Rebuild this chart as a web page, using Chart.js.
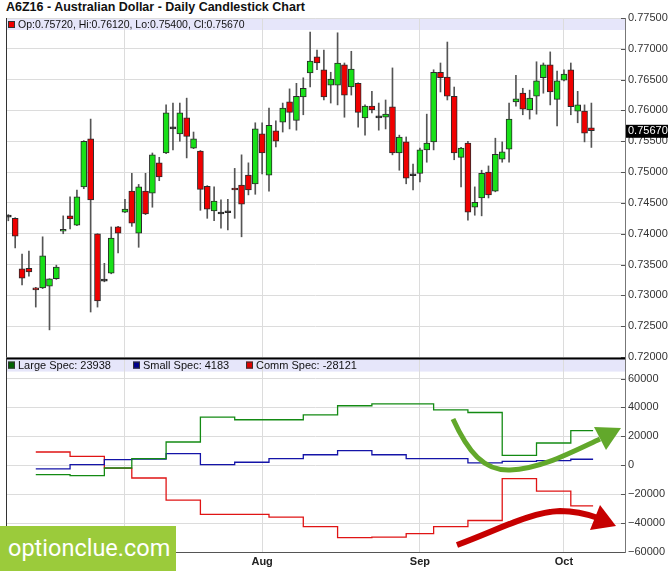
<!DOCTYPE html>
<html>
<head>
<meta charset="utf-8">
<script src="https://cdn.jsdelivr.net/npm/chart.js@4.4.0/dist/chart.umd.min.js"></script>
<style>
  body { margin: 0; background: #fff; width: 670px; height: 571px; overflow: hidden; position: relative; }
  #title { position: absolute; left: 6px; top: 0px; font: bold 12.5px "Liberation Sans", Arial, sans-serif; color: #111; }
  #top { position: absolute; left: 0; top: 0; }
  #bot { position: absolute; left: 0; top: 348px; }
  #wm { position: absolute; left: 0; top: 526px; width: 176px; height: 45px; background: #9bcb3b; color: #fff;
        font: 23.5px Roboto, sans-serif; line-height: 44px; padding-left: 8px; box-sizing: border-box; }
  svg { position: absolute; left: 0; top: 0; }
</style>
</head>
<body>
<div id="title">A6Z16 - Australian Dollar - Daily Candlestick Chart</div>
<canvas id="top" width="670" height="369"></canvas>
<canvas id="bot" width="670" height="223"></canvas>
<svg width="670" height="571">
  <path d="M453 419 C468 452 484 471 510 470 C540 469 570 453 600 439" fill="none" stroke="#62a82b" stroke-width="5"/>
  <polygon points="621,428 594,427 606,450" fill="#62a82b"/>
  <path d="M457 545 C498 530 530 512 560 511 C575 511 587 514 598 518" fill="none" stroke="#c60000" stroke-width="6"/>
  <polygon points="616,526 600,505 590,530" fill="#c60000"/>
</svg>
<div id="wm">optionclue.com</div>
<script>
// daily bars, first trading day and holidays skipped
const firstDay = '2016-06-08';
const holidays = ['2016-07-04', '2016-09-05'];

const opens = [
  0.7427, 0.7425, 0.7343, 0.7344, 0.7312, 0.7312, 0.7315, 0.7327, 0.7404, 0.7429,
  0.7414, 0.7476, 0.7554, 0.7400, 0.7323, 0.7336, 0.7411, 0.7435, 0.7469, 0.7401,
  0.7469, 0.7466, 0.7515, 0.7531, 0.7570, 0.7562, 0.7588, 0.7539, 0.7534, 0.7477,
  0.7437, 0.7432, 0.7434, 0.7474, 0.7479, 0.7495, 0.7481, 0.7562, 0.7495, 0.7567,
  0.7581, 0.7614, 0.7584, 0.7622, 0.7661, 0.7687, 0.7666, 0.7641, 0.7641, 0.7674,
  0.7638, 0.7644, 0.7588, 0.7607, 0.7588, 0.7589, 0.7606, 0.7531, 0.7549, 0.7494,
  0.7498, 0.7536, 0.7549, 0.7662, 0.7654, 0.7623, 0.7524, 0.7547, 0.7443, 0.7458,
  0.7500, 0.7469, 0.7521, 0.7537, 0.7614, 0.7628, 0.7601, 0.7623, 0.7653, 0.7674,
  0.7618, 0.7649, 0.7666, 0.7599, 0.7599, 0.7572
];
const highs = [
  0.7431, 0.7426, 0.7367, 0.7372, 0.7313, 0.7395, 0.7327, 0.7349, 0.7429, 0.7460,
  0.7471, 0.7551, 0.7586, 0.7400, 0.7352, 0.7411, 0.7412, 0.7456, 0.7498, 0.7480,
  0.7498, 0.7531, 0.7524, 0.7609, 0.7612, 0.7612, 0.7620, 0.7565, 0.7535, 0.7478,
  0.7476, 0.7455, 0.7456, 0.7506, 0.7528, 0.7515, 0.7580, 0.7580, 0.7604, 0.7583,
  0.7612, 0.7635, 0.7644, 0.7653, 0.7727, 0.7698, 0.7698, 0.7662, 0.7726, 0.7677,
  0.7696, 0.7645, 0.7609, 0.7631, 0.7612, 0.7617, 0.7669, 0.7560, 0.7557, 0.7513,
  0.7539, 0.7594, 0.7666, 0.7677, 0.7711, 0.7638, 0.7540, 0.7550, 0.7476, 0.7503,
  0.7510, 0.7555, 0.7549, 0.7612, 0.7657, 0.7636, 0.7633, 0.7679, 0.7677, 0.7695,
  0.7664, 0.7666, 0.7677, 0.7631, 0.7609, 0.7612
];
const lows = [
  0.7421, 0.7377, 0.7317, 0.7331, 0.7281, 0.7311, 0.7244, 0.7326, 0.7400, 0.7408,
  0.7413, 0.7473, 0.7273, 0.7281, 0.7322, 0.7335, 0.7369, 0.7434, 0.7412, 0.7378,
  0.7431, 0.7443, 0.7486, 0.7530, 0.7536, 0.7550, 0.7523, 0.7538, 0.7438, 0.7425,
  0.7421, 0.7409, 0.7406, 0.7425, 0.7395, 0.7463, 0.7464, 0.7497, 0.7469, 0.7541,
  0.7565, 0.7570, 0.7568, 0.7593, 0.7638, 0.7666, 0.7617, 0.7612, 0.7609, 0.7589,
  0.7625, 0.7573, 0.7560, 0.7596, 0.7568, 0.7570, 0.7528, 0.7503, 0.7481, 0.7471,
  0.7484, 0.7516, 0.7536, 0.7630, 0.7617, 0.7520, 0.7476, 0.7422, 0.7430, 0.7429,
  0.7458, 0.7468, 0.7516, 0.7516, 0.7607, 0.7593, 0.7586, 0.7594, 0.7628, 0.7609,
  0.7575, 0.7648, 0.7593, 0.7580, 0.7549, 0.7540
];
const closes = [
  0.7427, 0.7396, 0.7328, 0.7338, 0.7309, 0.7364, 0.7327, 0.7346, 0.7407, 0.7424,
  0.7460, 0.7550, 0.7455, 0.7291, 0.7323, 0.7393, 0.7401, 0.7440, 0.7417, 0.7476,
  0.7432, 0.7528, 0.7492, 0.7596, 0.7570, 0.7596, 0.7558, 0.7554, 0.7472, 0.7440,
  0.7453, 0.7432, 0.7434, 0.7471, 0.7448, 0.7471, 0.7570, 0.7531, 0.7576, 0.7550,
  0.7604, 0.7597, 0.7623, 0.7636, 0.7680, 0.7677, 0.7622, 0.7651, 0.7677, 0.7625,
  0.7667, 0.7597, 0.7607, 0.7601, 0.7588, 0.7594, 0.7531, 0.7557, 0.7490, 0.7494,
  0.7536, 0.7547, 0.7662, 0.7653, 0.7623, 0.7531, 0.7539, 0.7435, 0.7451, 0.7498,
  0.7463, 0.7529, 0.7533, 0.7586, 0.7619, 0.7602, 0.7620, 0.7648, 0.7674, 0.7630,
  0.7648, 0.7659, 0.7606, 0.7609, 0.7563, 0.7567
];

// weekly COT report dates (Tuesdays) and net positions
const cotDates = ['2016-06-14', '2016-06-21', '2016-06-28', '2016-07-05', '2016-07-12', '2016-07-19',
  '2016-07-26', '2016-08-02', '2016-08-09', '2016-08-16', '2016-08-23', '2016-08-30',
  '2016-09-06', '2016-09-13', '2016-09-20', '2016-09-27', '2016-10-04'];
const largeSpec = [-6400, -7100, -1900, 4600, 16100, 33300, 31500, 31500, 34900, 41200, 42500, 42500, 38400, 36500, 6900, 15400, 23938];
const smallSpec = [-2500, 400, 3900, 4300, 8000, 400, 2100, 4600, 7300, 10100, 7300, 4600, 4600, 1600, 2700, 3200, 4183];
const commSpec = [9200, 6200, -2000, -8800, -24100, -34000, -34000, -35900, -42500, -50100, -49700, -47300, -42400, -38200, -9200, -17900, -28121];

const priceTicks = { min: 0.72, max: 0.775, step: 0.005 };
const cotTicks = { min: -60000, max: 60000, step: 20000 };
const monthNames = ['Jan', 'Feb', 'Mar', 'Apr', 'May', 'Jun', 'Jul', 'Aug', 'Sep', 'Oct', 'Nov', 'Dec'];

const X_MIN = -0.34, X_MAX = 89.9;
const COT_TOP = 74500; // panel top sits above the last labelled tick
const FONT = '"Liberation Sans", Arial, sans-serif';
const GRID = '#dcdcdc';

function tradingDays(start, n, skip) {
  const out = [];
  const d = new Date(start + 'T00:00:00Z');
  while (out.length < n) {
    const s = d.toISOString().slice(0, 10);
    const wd = d.getUTCDay();
    if (wd !== 0 && wd !== 6 && !skip.includes(s)) out.push(s);
    d.setUTCDate(d.getUTCDate() + 1);
  }
  return out;
}

function tickList(t) {
  const out = [];
  const n = Math.round((t.max - t.min) / t.step);
  for (let k = 0; k <= n; k++) out.push({ value: t.min + k * t.step });
  return out;
}

const dates = tradingDays(firstDay, opens.length, holidays);
const monthStarts = [];
dates.forEach((s, i) => { if (i > 0 && s.slice(5, 7) !== dates[i - 1].slice(5, 7)) monthStarts.push(i); });

function candleColor(i) {
  if (closes[i] > opens[i]) return '#18e018';
  if (closes[i] < opens[i]) return '#f00000';
  return '#222';
}

function innerTicks(chart, scale) {
  const ctx = chart.ctx, r = chart.chartArea.right;
  ctx.save();
  ctx.strokeStyle = '#555';
  ctx.lineWidth = 1;
  scale.ticks.forEach(t => {
    const y = Math.round(scale.getPixelForValue(t.value)) + 0.5;
    ctx.beginPath(); ctx.moveTo(r - 4, y); ctx.lineTo(r, y); ctx.stroke();
  });
  ctx.restore();
}

function legendItem(ctx, x, y, color, text) {
  ctx.fillStyle = color;
  ctx.fillRect(x, y, 7, 7);
  ctx.strokeStyle = '#333';
  ctx.lineWidth = 1;
  ctx.strokeRect(x + 0.5, y + 0.5, 6, 6);
  ctx.fillStyle = '#111';
  ctx.fillText(text, x + 10, y + 7);
}

const last = opens.length - 1;

const topDecor = {
  id: 'topDecor',
  beforeDraw(chart) {
    const { ctx, chartArea: a } = chart;
    ctx.save();
    ctx.fillStyle = '#e6e6fa';
    ctx.fillRect(a.left, a.top, a.right - a.left, 12);
    ctx.restore();
  },
  afterDraw(chart) {
    const { ctx, chartArea: a } = chart;
    const ys = chart.scales.y;
    innerTicks(chart, ys);
    ctx.save();
    ctx.strokeStyle = '#333';
    ctx.lineWidth = 1;
    ctx.beginPath(); ctx.moveTo(a.left + 0.5, a.top); ctx.lineTo(a.left + 0.5, a.bottom); ctx.stroke();
    ctx.font = '10.5px ' + FONT;
    legendItem(ctx, a.left + 2, a.top + 3, candleColor(last),
      'Op:' + opens[last].toFixed(5) + ', Hi:' + highs[last].toFixed(5) +
      ', Lo:' + lows[last].toFixed(5) + ', Cl:' + closes[last].toFixed(5));
    // last price marker
    const py = ys.getPixelForValue(closes[last]);
    ctx.font = '11px ' + FONT;
    ctx.fillStyle = '#000';
    ctx.fillRect(a.right + 1, py - 6, 42, 13);
    ctx.fillStyle = '#fff';
    ctx.textBaseline = 'middle';
    ctx.fillText(closes[last].toFixed(5), a.right + 3, py + 0.5);
    ctx.restore();
  }
};

const botDecor = {
  id: 'botDecor',
  beforeDraw(chart) {
    const { ctx, chartArea: a } = chart;
    ctx.save();
    ctx.fillStyle = '#e6e6fa';
    ctx.fillRect(a.left, a.top + 1, a.right - a.left, 13);
    ctx.restore();
  },
  afterDraw(chart) {
    const { ctx, chartArea: a } = chart;
    innerTicks(chart, chart.scales.y);
    ctx.save();
    ctx.strokeStyle = '#000';
    ctx.lineWidth = 2;
    ctx.beginPath(); ctx.moveTo(a.left, a.top + 1); ctx.lineTo(a.right, a.top + 1); ctx.stroke();
    ctx.strokeStyle = '#333';
    ctx.lineWidth = 1;
    ctx.beginPath(); ctx.moveTo(a.left + 0.5, a.top); ctx.lineTo(a.left + 0.5, a.bottom); ctx.stroke();
    ctx.font = '11px ' + FONT;
    const n = cotDates.length - 1;
    legendItem(ctx, a.left + 2, a.top + 4, '#006400', 'Large Spec: ' + largeSpec[n]);
    legendItem(ctx, a.left + 127, a.top + 4, '#00008b', 'Small Spec: ' + smallSpec[n]);
    legendItem(ctx, a.left + 240, a.top + 4, '#dd0000', 'Comm Spec: ' + commSpec[n]);
    ctx.restore();
  }
};

const idx = dates.map((d, i) => i);

new Chart(document.getElementById('top'), {
  type: 'bar',
  data: {
    datasets: [
      {
        label: 'body',
        data: idx.map(i => ({ x: i, y: [opens[i], closes[i]] })),
        backgroundColor: idx.map(candleColor),
        borderColor: '#2a2a2a',
        borderWidth: 1,
        borderSkipped: false,
        barThickness: 6,
        minBarLength: 2,
        grouped: false,
        order: 0
      },
      {
        label: 'wick',
        data: idx.map(i => ({ x: i, y: [lows[i], highs[i]] })),
        backgroundColor: '#555',
        borderWidth: 0,
        barThickness: 1,
        grouped: false,
        order: 1
      }
    ]
  },
  options: {
    responsive: false,
    animation: false,
    events: [],
    layout: { padding: { left: 6, top: 18, right: 0, bottom: 0 } },
    plugins: { legend: { display: false }, tooltip: { enabled: false } },
    scales: {
      x: {
        type: 'linear', min: X_MIN, max: X_MAX, offset: false,
        afterFit(s) { s.height = 12; },
        afterBuildTicks(s) { s.ticks = monthStarts.map(v => ({ value: v })); },
        ticks: { display: false },
        grid: { color: GRID, drawTicks: false, offset: false },
        border: { display: false }
      },
      y: {
        position: 'right', min: priceTicks.min, max: priceTicks.max,
        afterFit(s) { s.width = 45; },
        afterBuildTicks(s) { s.ticks = tickList(priceTicks); },
        ticks: {
          padding: 3, color: '#333',
          font: { size: 11, family: FONT },
          callback: v => v.toFixed(5)
        },
        grid: { color: GRID, drawTicks: false },
        border: { color: '#777' }
      }
    }
  },
  plugins: [topDecor]
});

function stepData(values) {
  const pts = cotDates.map((d, k) => ({ x: dates.indexOf(d), y: values[k] }));
  pts.push({ x: last + 0.25, y: values[values.length - 1] });
  return pts;
}

function cotLine(label, values, color) {
  return { label, data: stepData(values), borderColor: color, borderWidth: 1.3, pointRadius: 0, stepped: 'before', fill: false };
}

new Chart(document.getElementById('bot'), {
  type: 'line',
  data: {
    datasets: [
      cotLine('Large Spec', largeSpec, '#138a13'),
      cotLine('Small Spec', smallSpec, '#1414a8'),
      cotLine('Comm Spec', commSpec, '#e01414')
    ]
  },
  options: {
    responsive: false,
    animation: false,
    events: [],
    layout: { padding: { left: 6, top: 9, right: 0, bottom: 0 } },
    plugins: { legend: { display: false }, tooltip: { enabled: false } },
    scales: {
      x: {
        type: 'linear', min: X_MIN, max: X_MAX,
        afterFit(s) { s.height = 19; },
        afterBuildTicks(s) { s.ticks = monthStarts.map(v => ({ value: v })); },
        ticks: {
          padding: 3, color: '#222', maxRotation: 0, autoSkip: false,
          font: { size: 11, weight: 'bold', family: FONT },
          callback: v => monthNames[parseInt(dates[v].slice(5, 7), 10) - 1]
        },
        grid: { color: GRID, drawTicks: false },
        border: { color: '#555' }
      },
      y: {
        position: 'right', min: cotTicks.min, max: COT_TOP,
        afterFit(s) { s.width = 45; },
        afterBuildTicks(s) { s.ticks = tickList(cotTicks); },
        ticks: {
          padding: 3, color: '#333',
          font: { size: 11, family: FONT },
          callback: v => (v < 0 ? '\u2212' + (-v) : String(v))
        },
        grid: { color: GRID, drawTicks: false },
        border: { color: '#777' }
      }
    }
  },
  plugins: [botDecor]
});
</script>
</body>
</html>
